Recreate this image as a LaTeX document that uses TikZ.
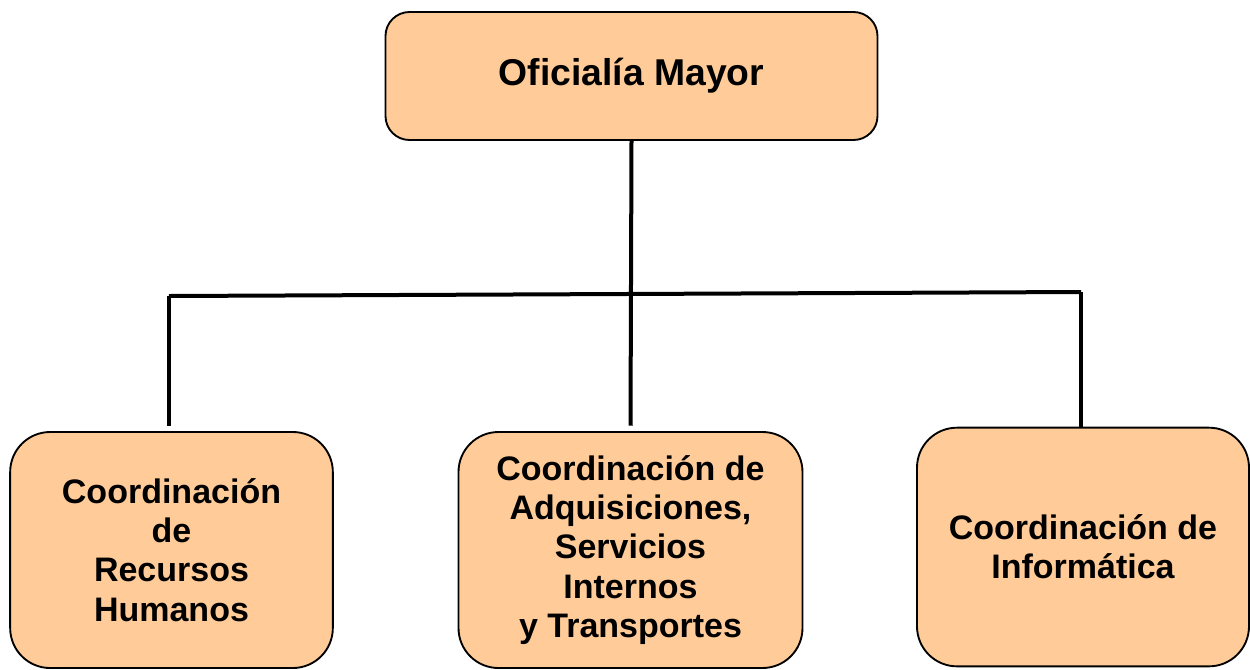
\documentclass[tikz,border=0pt]{standalone}
\usepackage{fontspec}
\setmainfont{Liberation Sans}
\usepackage{tikz}
\usetikzlibrary{calc}
\definecolor{durazno}{RGB}{255,204,153}

\tikzset{
    caja/.style = {draw, line width=1.4pt, fill=durazno, rectangle,
        align=center, font=\bfseries\fontsize{25.5}{29.5}\selectfont},
    linea/.style = {line width=3pt}
}

\begin{document}
\begin{tikzpicture}[x=0.75pt, y=-0.75pt]
    \useasboundingbox (0,0) rectangle (1250,669);

    % jefatura
    \node[caja, rounded corners=18pt, minimum width=369pt, minimum height=96pt,
        font=\bfseries\fontsize{28}{32}\selectfont] (oficialia) at (631.5,76) {Oficialía Mayor};

    % coordinaciones
    \node[caja, rounded corners=30pt, minimum width=242pt, minimum height=177pt]
        (rrhh) at (171.5,550) {Coordinación\\de\\Recursos\\Humanos};
    \node[caja, rounded corners=30pt, minimum width=258pt, minimum height=177pt]
        (adquisiciones) at (630.5,550) {Coordinación de\\Adquisiciones,\\Servicios\\Internos\\y Transportes};
    \node[caja, rounded corners=30pt, minimum width=249pt, minimum height=179pt]
        (informatica) at (1083,547) {Coordinación de\\Informática};

    % ramas
    \coordinate (izq) at (169,296);
    \coordinate (der) at (1081,292);

    \draw[linea] (oficialia.south) -- ([yshift=4pt]adquisiciones.north);
    \draw[linea] (izq) -- (der);
    \draw[linea] (izq) -- ([yshift=4pt]izq |- rrhh.north);
    \draw[linea] (der) -- (der |- informatica.north);
\end{tikzpicture}
\end{document}
